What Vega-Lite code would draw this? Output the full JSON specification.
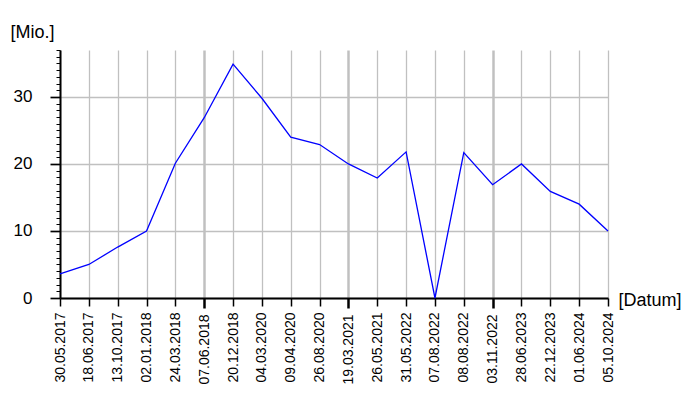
{
  "$schema": "https://vega.github.io/schema/vega-lite/v6.json",
  "autosize": {"type": "none"},
  "padding": {"left": 60, "top": 50, "right": 92, "bottom": 102},
  "width": 548,
  "height": 248,
  "background": "white",
  "config": {
    "view": {"stroke": null},
    "font": "Liberation Sans",
    "axis": {"labelColor": "black", "titleColor": "black", "labelFont": "Liberation Sans", "titleFont": "Liberation Sans"}
  },
  "data": {
    "values": [
      {"Datum": "30.05.2017", "Mio": 3.6},
      {"Datum": "18.06.2017", "Mio": 5.0},
      {"Datum": "13.10.2017", "Mio": 7.6},
      {"Datum": "02.01.2018", "Mio": 10.0},
      {"Datum": "24.03.2018", "Mio": 20.1},
      {"Datum": "07.06.2018", "Mio": 26.9},
      {"Datum": "20.12.2018", "Mio": 34.9},
      {"Datum": "04.03.2020", "Mio": 29.8},
      {"Datum": "09.04.2020", "Mio": 24.0},
      {"Datum": "26.08.2020", "Mio": 22.9},
      {"Datum": "19.03.2021", "Mio": 20.0},
      {"Datum": "26.05.2021", "Mio": 17.9},
      {"Datum": "31.05.2022", "Mio": 21.8},
      {"Datum": "07.08.2022", "Mio": 0.0},
      {"Datum": "08.08.2022", "Mio": 21.7},
      {"Datum": "03.11.2022", "Mio": 16.9},
      {"Datum": "28.06.2023", "Mio": 20.0},
      {"Datum": "22.12.2023", "Mio": 15.9},
      {"Datum": "01.06.2024", "Mio": 14.0},
      {"Datum": "05.10.2024", "Mio": 10.0}
    ]
  },
  "encoding": {
    "x": {
      "field": "Datum",
      "type": "ordinal",
      "sort": null,
      "scale": {"type": "point", "padding": 0},
      "axis": {
        "orient": "bottom",
        "labelAngle": -90,
        "labelFontSize": 14,
        "labelPadding": 6,
        "tickSize": {"condition": {"test": "indexof(['07.06.2018','19.03.2021','03.11.2022'], datum.value) >= 0", "value": 10}, "value": 8},
        "tickColor": "black",
        "tickWidth": {"condition": {"test": "indexof(['07.06.2018','19.03.2021','03.11.2022'], datum.value) >= 0", "value": 2.5}, "value": 1.5},
        "domainColor": "black",
        "domainWidth": 2,
        "grid": true,
        "gridColor": "#c0c0c0",
        "gridWidth": {"condition": {"test": "indexof(['07.06.2018','19.03.2021','03.11.2022'], datum.value) >= 0", "value": 2.5}, "value": 1.3},
        "title": "[Datum]",
        "titleFontSize": 18,
        "titleFontWeight": "normal",
        "titleAngle": 0,
        "titleX": 558,
        "titleY": 7,
        "titleAlign": "left",
        "titleBaseline": "alphabetic"
      }
    }
  },
  "layer": [
    {
      "mark": {"type": "line", "color": "#0000ff", "strokeWidth": 1.3},
      "encoding": {
        "y": {
          "field": "Mio",
          "type": "quantitative",
          "scale": {"domain": [0, 37], "nice": false, "zero": true},
          "axis": {
            "orient": "left",
            "values": [0, 10, 20, 30],
            "tickSize": 10,
            "tickWidth": 1.7,
            "tickColor": "black",
            "labelFontSize": 17,
            "labelPadding": 18,
            "domainColor": "black",
            "domainWidth": 2,
            "grid": true,
            "gridColor": "#c0c0c0",
            "gridWidth": 1.3,
            "title": "[Mio.]",
            "titleFontSize": 18,
            "titleFontWeight": "normal",
            "titleAngle": 0,
            "titleX": -50,
            "titleY": -13,
            "titleAlign": "left",
            "titleBaseline": "alphabetic"
          }
        }
      }
    },
    {
      "mark": {"type": "line", "opacity": 0},
      "encoding": {
        "y": {
          "field": "Mio",
          "type": "quantitative",
          "axis": {
            "orient": "left",
            "values": [1,2,3,4,5,6,7,8,9,11,12,13,14,15,16,17,18,19,21,22,23,24,25,26,27,28,29,31,32,33,34,35,36,37],
            "tickSize": 4,
            "tickWidth": 1,
            "tickColor": "black",
            "labels": false,
            "domain": false,
            "grid": false,
            "title": null
          }
        }
      }
    }
  ],
  "resolve": {"axis": {"y": "independent"}}
}
